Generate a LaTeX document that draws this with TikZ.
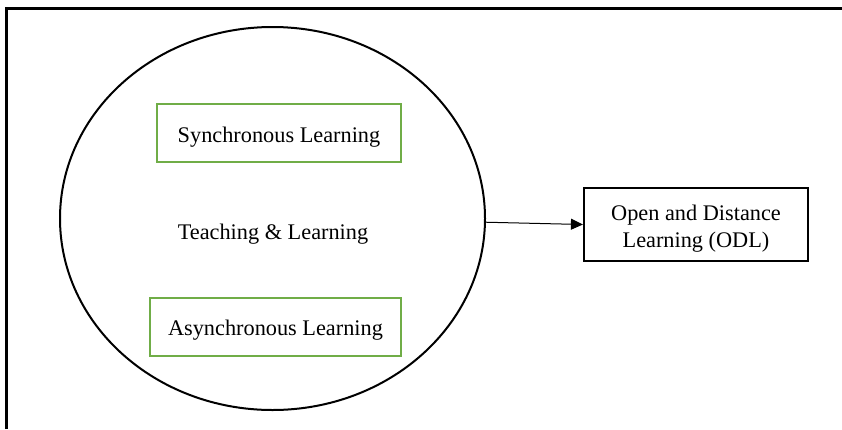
\documentclass[tikz,border=0pt]{standalone}
\usepackage{fontspec}
\setmainfont{Liberation Serif}
\usetikzlibrary{shapes.geometric,arrows.meta}
\definecolor{boxgreen}{RGB}{112,173,71}
\begin{document}
\begin{tikzpicture}[x=1pt,y=-1pt,
  greenbox/.style={draw=boxgreen, line width=2.4pt, inner sep=0pt, font=\fontsize{22.3}{26}\selectfont},
  blackbox/.style={draw, line width=2.2pt, inner sep=0pt, align=center, font=\fontsize{22.3}{27}\selectfont},
  lbl/.style={font=\fontsize{22.3}{26}\selectfont}]
\useasboundingbox (0,0) rectangle (842,429);
\draw[line width=3pt] (6,429) -- (6,8) -- (842,8);
\node[ellipse, draw, line width=2pt, minimum width=425pt, minimum height=383pt, inner sep=0pt] (T) at (272.5,218.5) {};
\node[lbl] (tl) at (273,234) {Teaching \& Learning};
\node[greenbox, minimum width=244pt, minimum height=58pt, text height=24pt, text depth=4.6pt] (sync) at (279,133) {Synchronous Learning};
\node[greenbox, minimum width=251pt, minimum height=58pt, text height=22pt, text depth=4.6pt] (async) at (275.5,327) {Asynchronous Learning};
\node[blackbox, minimum width=224pt, minimum height=73pt, text height=50pt, text depth=4.6pt] (odl) at (696,224.5) {Open and Distance\\Learning (ODL)};
\draw[line width=1pt, -{Triangle[length=12pt,width=11pt]}] (T.-1.6) -- (odl.west);
\end{tikzpicture}
\end{document}
